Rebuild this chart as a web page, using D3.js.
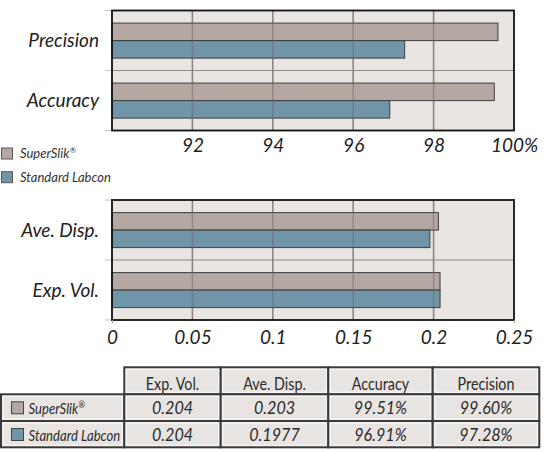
<!DOCTYPE html>
<html lang="en">
<head>
<meta charset="UTF-8">
<title>SuperSlik vs Standard Labcon</title>
<script src="https://d3js.org/d3.v7.min.js"></script>
<style>
    body { margin: 0; background: #fff; }
    svg { display: block; }
    .axis-label { font: italic 19px Lato, sans-serif; fill: #222; }
    .cat-label { font: italic 19px Lato, sans-serif; fill: #222; }
    .legend-text { font: italic 13px Lato, sans-serif; fill: #333; }
    .tbl-head { font: 17px Lato, sans-serif; fill: #2b2b2b; }
    .tbl-cell { font: italic 17px Lato, sans-serif; fill: #2b2b2b; }
    .tbl-row { font: italic 16px Lato, sans-serif; fill: #2b2b2b; }
</style>
</head>
<body>
<svg width="550" height="452"></svg>
<script>
// series
const series = ["SuperSlik", "Standard Labcon"];
const seriesColors = ["#b5a7a2", "#7094a8"];

// top chart (percent)
const pctCategories = ["Precision", "Accuracy"];
const precision = [99.60, 97.28];
const accuracy = [99.51, 96.91];
const pctTicks = [92, 94, 96, 98, 100];

// bottom chart (volume)
const volCategories = ["Ave. Disp.", "Exp. Vol."];
const aveDisp = [0.203, 0.1977];
const expVol = [0.204, 0.204];
const volTicks = [0, 0.05, 0.1, 0.15, 0.2, 0.25];

// table
const tableColumns = ["Exp. Vol.", "Ave. Disp.", "Accuracy", "Precision"];

const svg = d3.select("svg");
const plotLeft = 112, plotRight = 514;

function drawChart(opts) {
    const g = svg.append("g");
    const x = d3.scaleLinear().domain(opts.domain).range([plotLeft, plotRight]);
    const y = d3.scaleBand().domain(opts.categories).range([opts.top, opts.top + 120]);
    const sub = d3.scaleBand().domain(series).range([12.6, y.bandwidth() - 12.4]);

    // background
    g.append("rect")
        .attr("x", plotLeft).attr("y", opts.top)
        .attr("width", plotRight - plotLeft).attr("height", 120)
        .attr("fill", "#e9e5e2");

    // light gridlines behind bars
    const inner = opts.ticks.filter(t => t > opts.domain[0] && t < opts.domain[1]);
    g.selectAll(".grid-back")
        .data(inner)
        .enter().append("line")
        .attr("x1", d => x(d)).attr("x2", d => x(d))
        .attr("y1", opts.top).attr("y2", opts.top + 120)
        .attr("stroke", "#aaa3a0").attr("stroke-width", 1.5);

    // band divider
    g.selectAll(".divider")
        .data(opts.categories.slice(1))
        .enter().append("line")
        .attr("x1", plotLeft).attr("x2", plotRight)
        .attr("y1", d => y(d)).attr("y2", d => y(d))
        .attr("stroke", "#8e8a88").attr("stroke-width", 1);

    // bars
    opts.categories.forEach((cat, ci) => {
        const vals = opts.values[ci];
        g.selectAll(".bar-" + ci)
            .data(series)
            .enter().append("rect")
            .attr("x", x(opts.domain[0]))
            .attr("y", s => y(cat) + sub(s))
            .attr("width", (s, i) => x(vals[i]) - x(opts.domain[0]))
            .attr("height", sub.bandwidth())
            .attr("fill", (s, i) => seriesColors[i])
            .attr("stroke", "#3d3d3d").attr("stroke-width", 1);
    });

    // gridlines showing through the bars
    g.selectAll(".grid")
        .data(inner)
        .enter().append("line")
        .attr("x1", d => x(d)).attr("x2", d => x(d))
        .attr("y1", opts.top).attr("y2", opts.top + 120)
        .attr("stroke", "#6d6462").attr("stroke-opacity", 0.45).attr("stroke-width", 1.5);

    // left ticks
    g.selectAll(".ytick")
        .data([0, 60, 120])
        .enter().append("line")
        .attr("x1", plotLeft - 7).attr("x2", plotLeft)
        .attr("y1", d => opts.top + d).attr("y2", d => opts.top + d)
        .attr("stroke", "#c8c4c2").attr("stroke-width", 1);

    // frame
    g.append("rect")
        .attr("x", plotLeft).attr("y", opts.top)
        .attr("width", plotRight - plotLeft).attr("height", 120)
        .attr("fill", "none").attr("stroke", "#111").attr("stroke-width", 1.8);

    // x axis labels
    const ax = g.append("g")
        .attr("transform", "translate(0," + (opts.top + 120) + ")")
        .call(d3.axisBottom(x).tickValues(opts.ticks).tickSize(opts.tickLen).tickPadding(opts.pad)
            .tickFormat(opts.format));
    ax.select(".domain").remove();
    ax.selectAll("line").attr("stroke", "#999")
        .filter(d => d !== opts.domain[0] && d !== opts.domain[1]).remove();
    ax.selectAll("text").attr("class", "axis-label").attr("fill", null)
        .style("font-family", "Lato, sans-serif").style("font-style", "italic")
        .style("font-size", "19px");

    // category labels
    g.selectAll(".cat")
        .data(opts.categories)
        .enter().append("text")
        .attr("class", "cat-label")
        .attr("x", plotLeft - 13)
        .attr("y", d => y(d) + y.bandwidth() / 2 + 6.5)
        .attr("text-anchor", "end")
        .text(d => d);
}

drawChart({
    top: 10.5,
    domain: [90, 100],
    categories: pctCategories,
    values: [precision, accuracy],
    ticks: pctTicks,
    tickLen: 0,
    pad: 8,
    format: d => d === 100 ? "100%" : d
});

drawChart({
    top: 200,
    domain: [0, 0.25],
    categories: volCategories,
    values: [aveDisp, expVol],
    ticks: volTicks,
    tickLen: 3,
    pad: 8,
    format: d => String(d)
});

// legend
const legend = svg.append("g");
series.forEach((s, i) => {
    const ly = 148 + i * 23.7;
    legend.append("rect")
        .attr("x", 1.5).attr("y", ly)
        .attr("width", 11).attr("height", 11)
        .attr("fill", seriesColors[i]).attr("stroke", "#555").attr("stroke-width", 1);
    const t = legend.append("text")
        .attr("class", "legend-text")
        .attr("x", 20).attr("y", ly + 10.3);
    t.append("tspan").text(s);
    if (s === "SuperSlik") {
        t.append("tspan").attr("dy", -5).style("font-size", "8px").text("®");
    }
});

// table
const colWidths = [123.3, 96.4, 107.6, 104.4, 106.6];
const colX = d3.cumsum([1].concat(colWidths));
const rowTops = [367.3, 394.3, 421, 447.3];
const tableValues = [
    series.map((s, i) => String(expVol[i])),
    series.map((s, i) => String(aveDisp[i])),
    series.map((s, i) => accuracy[i].toFixed(2) + "%"),
    series.map((s, i) => precision[i].toFixed(2) + "%")
];
const tbl = svg.append("g");
const tblText = svg.append("g");

function cell(x0, x1, y0, y1) {
    tbl.append("rect")
        .attr("x", x0).attr("y", y0)
        .attr("width", x1 - x0).attr("height", y1 - y0)
        .attr("fill", "#e8e4e1").attr("stroke", "#3a3a3a").attr("stroke-width", 2);
    tbl.append("rect")
        .attr("x", x0 + 2).attr("y", y0 + 2)
        .attr("width", x1 - x0 - 4).attr("height", y1 - y0 - 4)
        .attr("fill", "none").attr("stroke", "#fbfaf9").attr("stroke-width", 1);
}

// condensed text: horizontal squeeze around anchor point
function squeezed(cls, cx, cy, k, anchor) {
    return tblText.append("text")
        .attr("class", cls)
        .attr("text-anchor", anchor)
        .attr("transform", "translate(" + cx + "," + cy + ") scale(" + k + ",1)");
}

// header
tableColumns.forEach((c, ci) => {
    cell(colX[ci + 1], colX[ci + 2], rowTops[0], rowTops[1]);
    squeezed("tbl-head", (colX[ci + 1] + colX[ci + 2]) / 2, rowTops[0] + 22.5, 0.84, "middle").text(c);
});

// rows
series.forEach((s, si) => {
    const y0 = rowTops[si + 1], y1 = rowTops[si + 2];
    cell(colX[0], colX[1], y0, y1);
    tbl.append("rect")
        .attr("x", 11.5).attr("y", y0 + 7.5)
        .attr("width", 12).attr("height", 12)
        .attr("fill", seriesColors[si]).attr("stroke", "#444").attr("stroke-width", 1);
    const t = squeezed("tbl-row", 28.5, y0 + 19.5, 0.82, "start");
    t.append("tspan").text(s);
    if (s === "SuperSlik") {
        t.append("tspan").attr("dy", -6).style("font-size", "10px").text("®");
    }
    tableColumns.forEach((c, ci) => {
        cell(colX[ci + 1], colX[ci + 2], y0, y1);
        squeezed("tbl-cell", (colX[ci + 1] + colX[ci + 2]) / 2, y0 + 19.8, 0.95, "middle")
            .text(tableValues[ci][si]);
    });
});
</script>
</body>
</html>
